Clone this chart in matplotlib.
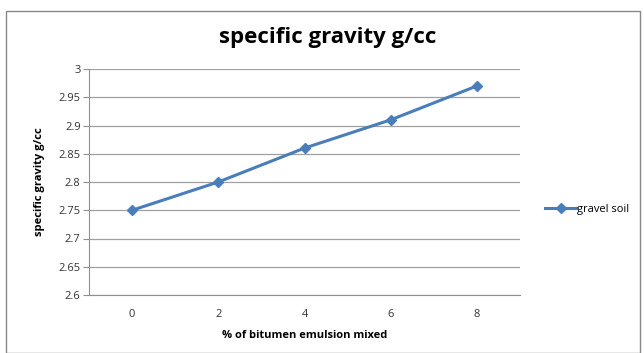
import matplotlib
matplotlib.use("Agg")
import matplotlib.pyplot as plt
from matplotlib.patches import Rectangle

x_vals = [0, 2, 4, 6, 8]
gravel_soil = [2.75, 2.80, 2.86, 2.91, 2.97]
y_ticks = [2.6, 2.65, 2.7, 2.75, 2.8, 2.85, 2.9, 2.95, 3.0]
y_labels = ["2.6", "2.65", "2.7", "2.75", "2.8", "2.85", "2.9", "2.95", "3"]

plt.rcParams['font.family'] = ['Open Sans', 'DejaVu Sans']

fig = plt.figure(figsize=(6.44, 3.53), dpi=100)
fig.patches.append(Rectangle((6/644, 0), 634/644, 1 - 11/353, transform=fig.transFigure,
                             fill=False, edgecolor='#888888', linewidth=1.0))

ax = fig.add_axes([89/644, 1 - 295/353, 431/644, 226/353])
color = '#4A7EBB'
ax.plot(range(len(x_vals)), gravel_soil, color=color, lw=2.2, marker='D', ms=5,
        label='gravel soil')
ax.set_xlim(-0.5, len(x_vals) - 0.5)
ax.set_xticks(range(len(x_vals)))
ax.set_xticklabels([str(v) for v in x_vals], fontsize=8, color='#333333')
ax.set_ylim(2.6, 3.0)
ax.set_yticks(y_ticks)
ax.set_yticklabels(y_labels, fontsize=8, color='#333333')
ax.grid(axis='y', color='#a0a0a0', lw=0.9)
ax.set_axisbelow(True)
for s in ['top', 'right']:
    ax.spines[s].set_visible(False)
for s in ['left', 'bottom']:
    ax.spines[s].set_color('#909090')
ax.tick_params(axis='y', length=4, color='#909090', pad=2)
ax.tick_params(axis='x', length=0, pad=10)
ax.set_xlabel('% of bitumen emulsion mixed', fontsize=8, fontweight='bold', labelpad=7)
ax.set_ylabel('specific gravity g/cc', fontsize=8, fontweight='bold', labelpad=10)
fig.text(328/644, 1 - 38/353, 'specific gravity g/cc', fontsize=16, fontweight='bold',
         ha='center', va='center')
ax.legend(loc='center left', bbox_to_anchor=(1.035, 0.38), frameon=False, fontsize=8,
          handlelength=2.8, handletextpad=0.1)

fig.savefig('out.png', dpi=100)
